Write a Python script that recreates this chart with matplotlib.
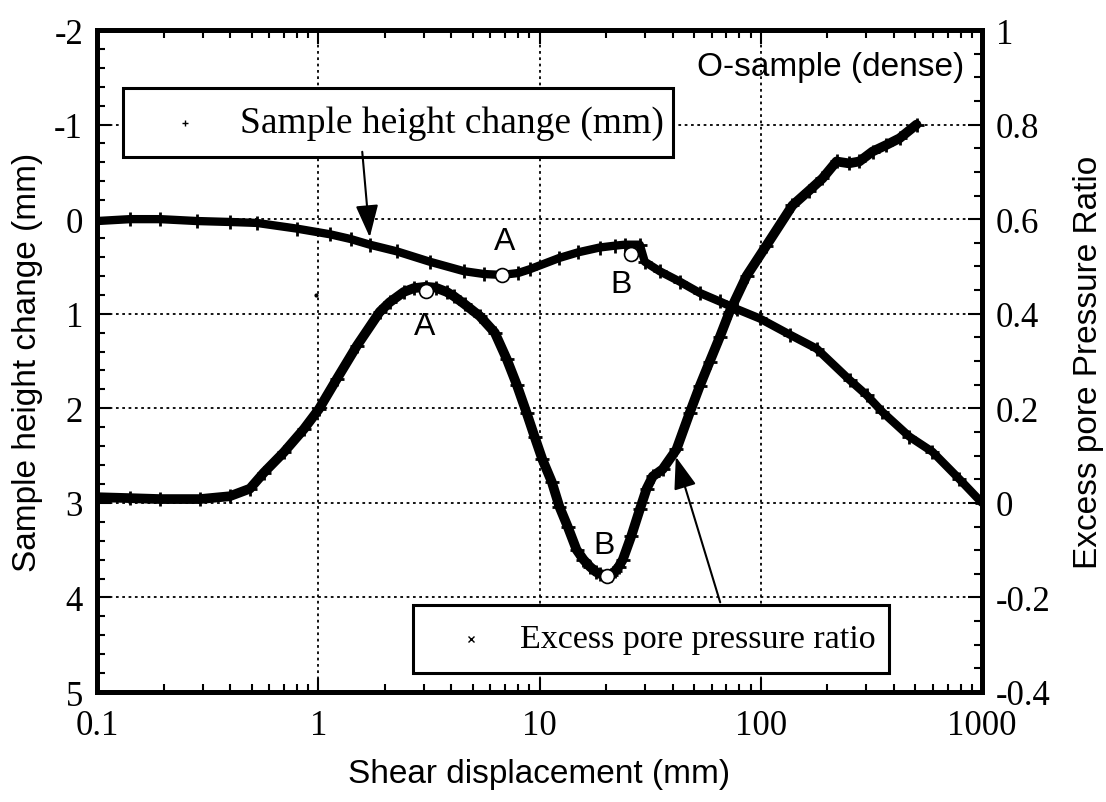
import matplotlib
matplotlib.use('Agg')
import matplotlib.pyplot as plt
from matplotlib.ticker import MultipleLocator, FixedLocator, LogLocator, FuncFormatter, NullFormatter
from matplotlib.patches import Rectangle, FancyArrowPatch

# 试样高度变化 (mm)，左轴
height_x = [0.1, 0.141, 0.193, 0.283, 0.40, 0.528, 0.80, 1.13, 1.40, 1.71, 2.26, 3.19, 4.55,
            5.6, 6.75, 8.0, 9.03, 12.3, 15.0, 18.7, 22.0, 24.3, 28.4, 29.9, 34.9, 43.0, 53.0,
            65.2, 77.8, 98.9, 135, 179, 252, 301, 355, 470, 597, 791, 1000]
height_y = [0.02, 0.0, 0.0, 0.02, 0.03, 0.04, 0.10, 0.16, 0.21, 0.27, 0.34, 0.45, 0.55,
            0.58, 0.59, 0.57, 0.53, 0.41, 0.35, 0.30, 0.28, 0.27, 0.27, 0.45, 0.55, 0.66, 0.78,
            0.87, 0.95, 1.05, 1.22, 1.37, 1.70, 1.86, 2.04, 2.30, 2.46, 2.75, 3.0]
height_stray_x = [0.98]
height_stray_y = [0.80]

# 超孔隙水压比，右轴
pore_x = [0.1, 0.141, 0.193, 0.292, 0.398, 0.491, 0.568, 0.699, 0.861, 1.006, 1.213, 1.494,
          1.897, 2.1, 2.436, 2.7, 3.06, 3.4, 3.81, 4.1, 4.59, 5.37, 6.28, 7.11, 7.89, 8.75, 9.5,
          10.3, 11.35, 12.3, 13.4, 14.7, 15.8, 16.9, 18.0, 18.7, 20.1, 21.0, 21.9, 22.8, 23.8,
          26.0, 28.4, 30.5, 32.5, 36.0, 41.6, 47.7, 53.0, 58.7, 65.2, 72.3, 86.3, 106, 139,
          165, 190, 220, 250, 279, 320, 370, 424, 506]
pore_r = [0.012, 0.010, 0.008, 0.008, 0.014, 0.030, 0.064, 0.107, 0.156, 0.198, 0.262, 0.332,
          0.404, 0.424, 0.446, 0.454, 0.457, 0.455, 0.446, 0.437, 0.42, 0.395, 0.36, 0.304,
          0.25, 0.19, 0.14, 0.092, 0.045, -0.008, -0.05, -0.099, -0.12, -0.135, -0.146, -0.15,
          -0.154, -0.152, -0.145, -0.135, -0.12, -0.07, -0.014, 0.03, 0.056, 0.071, 0.113,
          0.19, 0.247, 0.298, 0.35, 0.404, 0.48, 0.544, 0.629, 0.66, 0.686, 0.722, 0.718,
          0.722, 0.743, 0.757, 0.771, 0.80]

# A/B 点
height_pts_x = [6.75, 26.0]
height_pts_y = [0.59, 0.37]
pore_pts_x = [3.06, 20.1]
pore_pts_r = [0.448, -0.154]

x_ticks = [0.1, 1, 10, 100, 1000]
left_ticks = [-2, -1, 0, 1, 2, 3, 4, 5]
right_ticks = [-0.4, -0.2, 0, 0.2, 0.4, 0.6, 0.8, 1]

plt.rcParams['axes.unicode_minus'] = False
serif = 'Liberation Serif'
sans = 'Liberation Sans'

W, H = 1106, 803
fig = plt.figure(figsize=(W / 100, H / 100), dpi=100)
ax = fig.add_axes([97 / W, 1 - 693 / H, (982 - 97) / W, (693 - 31) / H])
ax2 = ax.twinx()


def fmt(v, pos):
    s = '%g' % v
    return '0' if s == '-0' else s


ax.set_xscale('log')
ax.set_xlim(0.1, 1000)
ax.set_ylim(5, -2)
ax2.set_ylim(-0.4, 1)

ax.xaxis.set_major_locator(FixedLocator(x_ticks))
ax.xaxis.set_minor_locator(LogLocator(base=10, subs=range(2, 10)))
ax.xaxis.set_major_formatter(FuncFormatter(fmt))
ax.xaxis.set_minor_formatter(NullFormatter())
ax.yaxis.set_major_locator(FixedLocator(left_ticks))
ax.yaxis.set_minor_locator(MultipleLocator(0.2))
ax.yaxis.set_major_formatter(FuncFormatter(fmt))
ax2.yaxis.set_major_locator(FixedLocator(right_ticks))
ax2.yaxis.set_minor_locator(MultipleLocator(0.05))
ax2.yaxis.set_major_formatter(FuncFormatter(fmt))

ax.grid(True, which='major', color='black', linestyle=(0, (1.5, 2)), linewidth=1.3)
ax.tick_params(which='both', direction='in', top=True, right=False, width=1.5)
ax.tick_params(which='major', length=10, labelsize=25, pad=10)
ax.tick_params(which='minor', length=6)
ax.tick_params(axis='x', pad=12)
ax2.tick_params(which='both', direction='in', width=1.5)
ax2.tick_params(which='major', length=10, labelsize=25, pad=10)
ax2.tick_params(which='minor', length=6)
for lab in ax.get_xticklabels() + ax.get_yticklabels() + ax2.get_yticklabels():
    lab.set_family(serif)
for a in (ax, ax2):
    for sp in a.spines.values():
        sp.set_linewidth(3.5)

# 数据带
ax.plot(height_x, height_y, color='black', linewidth=6, marker='+', markersize=10,
        markeredgewidth=2, solid_capstyle='round', solid_joinstyle='round', zorder=3)
ax.plot(height_stray_x, height_stray_y, linestyle='none', marker='.', color='black', markersize=4)
ax2.plot(pore_x, pore_r, color='black', linewidth=7, marker='+', markersize=10,
         markeredgewidth=2, solid_capstyle='round', solid_joinstyle='round', zorder=3)

ax.plot(height_pts_x, height_pts_y, linestyle='none', marker='o', markersize=10,
        markerfacecolor='white', markeredgecolor='black', markeredgewidth=1.2, zorder=5)
ax2.plot(pore_pts_x, pore_pts_r, linestyle='none', marker='o', markersize=10,
         markerfacecolor='white', markeredgecolor='black', markeredgewidth=1.2, zorder=5)

lab_kw = dict(fontsize=23, family=sans, ha='center', va='center', zorder=6)
ax.text(6.96, 0.23, 'A', **lab_kw)
ax.text(23.3, 0.69, 'B', **lab_kw)
ax.text(3.03, 1.13, 'A', **lab_kw)
ax.text(19.5, 3.45, 'B', **lab_kw)

ax.set_xlabel('Shear displacement (mm)', fontsize=24, family=sans, labelpad=12)
ax.set_ylabel('Sample height change (mm)', fontsize=24, family=sans, labelpad=8)
ax2.set_ylabel('Excess pore Pressure Ratio', fontsize=24, family=sans, labelpad=16)
ax.text(0.98, 0.945, 'O-sample (dense)', transform=ax.transAxes, fontsize=24,
        family=sans, ha='right', va='center')


def fx(px):
    return px / W


def fy(py):
    return 1 - py / H


# 图例框
for (x0, y0, x1, y1) in [(123, 89, 673, 158), (413, 606, 889, 674)]:
    fig.patches.append(Rectangle((fx(x0), fy(y1)), fx(x1) - fx(x0), fy(y0) - fy(y1),
                                 transform=fig.transFigure, facecolor='white',
                                 edgecolor='black', linewidth=2.2, zorder=10))
fig.text(fx(240), fy(124), 'Sample height change (mm)', fontsize=27, family=serif,
         va='center', ha='left', zorder=11)
fig.text(fx(520), fy(640), 'Excess pore pressure ratio', fontsize=24.5, family=serif,
         va='center', ha='left', zorder=11)
fig.lines.append(plt.Line2D([fx(185)], [fy(124)], marker='+', markersize=5, color='black',
                            transform=fig.transFigure, zorder=11))
fig.lines.append(plt.Line2D([fx(471)], [fy(640)], marker='x', markersize=5, color='black',
                            transform=fig.transFigure, zorder=11))

# 箭头
for (tail, tip) in [((362, 150), (370, 241)), ((721, 606), (675, 455))]:
    fig.patches.append(FancyArrowPatch((fx(tail[0]), fy(tail[1])), (fx(tip[0]), fy(tip[1])),
                                       transform=fig.transFigure,
                                       arrowstyle='-|>,head_length=10,head_width=3.5',
                                       mutation_scale=2, color='black', linewidth=1.5, zorder=12))

fig.savefig('out.png', dpi=100)
